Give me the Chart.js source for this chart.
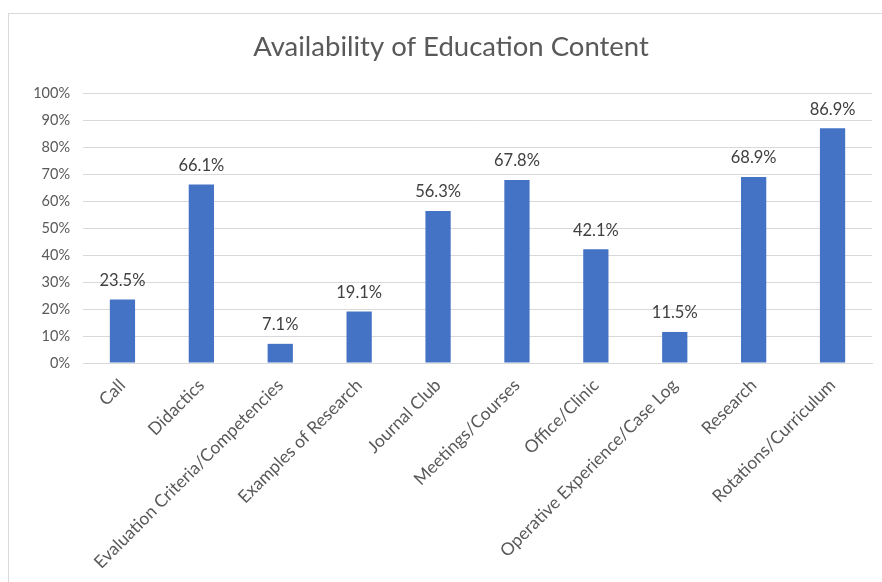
<!DOCTYPE html>
<html>
<head>
<meta charset="utf-8">
<script src="https://cdn.jsdelivr.net/npm/chart.js@4/dist/chart.umd.min.js"></script>
<style>
  html, body { margin: 0; padding: 0; background: #ffffff; }
  #frame { position: absolute; left: 8px; top: 13px; width: 900px; height: 600px;
           border-left: 1px solid #d9d9d9; border-top: 1px solid #d9d9d9; }
  #wrap { position: absolute; left: 0; top: 0; width: 882px; height: 582px; }
</style>
</head>
<body>
<div id="frame"></div>
<div id="wrap"><canvas id="c" width="882" height="582"></canvas></div>
<script>
const categories = ["Call", "Didactics", "Evaluation Criteria/Competencies", "Examples of Research",
  "Journal Club", "Meetings/Courses", "Office/Clinic", "Operative Experience/Case Log",
  "Research", "Rotations/Curriculum"];
const availability = [23.5, 66.1, 7.1, 19.1, 56.3, 67.8, 42.1, 11.5, 68.9, 86.9];
const yTicks = [0, 10, 20, 30, 40, 50, 60, 70, 80, 90, 100];
const chartTitle = "Availability of Education Content";

const FONT = "Lato, 'Open Sans', sans-serif";

const valueLabels = {
  id: 'valueLabels',
  afterDatasetsDraw(chart) {
    const ctx = chart.ctx;
    const meta = chart.getDatasetMeta(0);
    ctx.save();
    ctx.font = "16.5px " + FONT;
    ctx.fillStyle = "#404040";
    ctx.textAlign = "center";
    ctx.textBaseline = "middle";
    meta.data.forEach((bar, i) => {
      ctx.fillText(availability[i].toFixed(1) + "%", bar.x, bar.y - 19);
    });
    ctx.restore();
  }
};

new Chart(document.getElementById('c'), {
  type: 'bar',
  data: {
    labels: categories,
    datasets: [{
      data: availability,
      backgroundColor: '#4472C4',
      borderWidth: 0,
      categoryPercentage: 1,
      barPercentage: 0.32
    }]
  },
  options: {
    responsive: false,
    animation: false,
    events: [],
    layout: { padding: { left: 30, right: 10, top: 0, bottom: 0 } },
    plugins: {
      legend: { display: false },
      tooltip: { enabled: false },
      title: {
        display: true,
        text: chartTitle,
        color: '#595959',
        font: { family: FONT, size: 27.5, weight: 'normal' },
        padding: { top: 31, bottom: 29 }
      }
    },
    scales: {
      x: {
        grid: { display: false, drawTicks: false },
        border: { display: true, color: '#d9d9d9', width: 1 },
        ticks: {
          color: '#595959',
          font: { family: FONT, size: 17.5 },
          minRotation: 45, maxRotation: 45,
          autoSkip: false,
          padding: 12
        },
        afterFit(scale) { scale.height = 582 - 363; }
      },
      y: {
        min: 0, max: 100,
        afterBuildTicks(scale) { scale.ticks = yTicks.map(v => ({ value: v })); },
        grid: { color: '#d9d9d9', lineWidth: 1, drawTicks: false },
        border: { display: false },
        ticks: {
          color: '#595959',
          font: { family: FONT, size: 14.5 },
          padding: 13,
          callback: v => v + '%'
        },
        afterFit(scale) { scale.width = 53; }
      }
    }
  },
  plugins: [valueLabels]
});
</script>
</body>
</html>
